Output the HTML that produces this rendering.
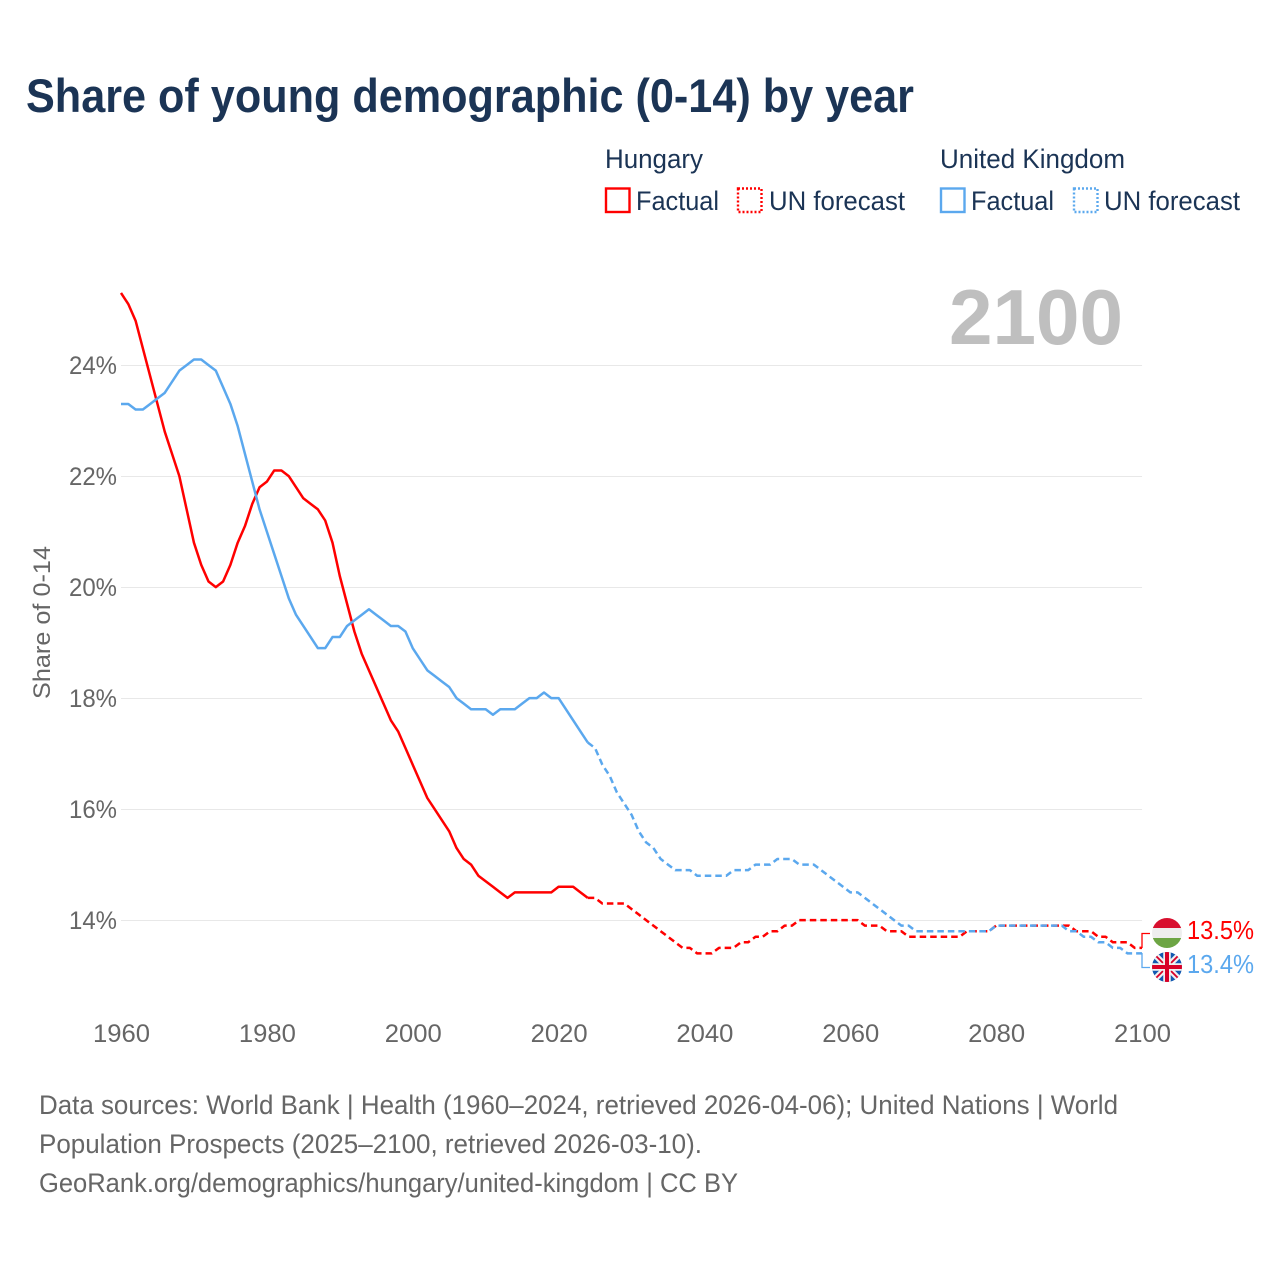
<!DOCTYPE html>
<html lang="en">
<head>
<meta charset="utf-8">
<title>Share of young demographic (0-14) by year</title>
<style>
html,body{margin:0;padding:0;background:#fff;width:1280px;height:1280px;overflow:hidden}
svg{display:block}
text{font-family:"Liberation Sans",sans-serif}
</style>
</head>
<body>
<svg id="chart" xmlns="http://www.w3.org/2000/svg" width="1280" height="1280" viewBox="0 0 1280 1280">
  <defs>
    <clipPath id="hu-clip"><circle cx="1167" cy="933" r="15"/></clipPath>
    <clipPath id="uk-clip"><circle cx="1167" cy="967" r="15"/></clipPath>
  </defs>
  <rect x="0" y="0" width="1280" height="1280" fill="#fff"/>
  <text x="26" y="112" font-size="47" font-weight="700" fill="#1b3455" textLength="888" lengthAdjust="spacingAndGlyphs">Share of young demographic (0-14) by year</text>

  <g font-size="26.5" fill="#1b3455">
    <text x="605" y="168" textLength="98" lengthAdjust="spacingAndGlyphs">Hungary</text>
    <rect x="606" y="188.500" width="23.500" height="23.500" fill="none" stroke="#ff0000" stroke-width="2.400"/>
    <text x="636" y="210" textLength="83" lengthAdjust="spacingAndGlyphs">Factual</text>
    <rect x="738" y="188.500" width="23.500" height="23.500" fill="none" stroke="#ff0000" stroke-width="2.400" stroke-dasharray="2 2"/>
    <text x="769" y="210" textLength="136" lengthAdjust="spacingAndGlyphs">UN forecast</text>
    <text x="940" y="168" textLength="185" lengthAdjust="spacingAndGlyphs">United Kingdom</text>
    <rect x="941" y="188.500" width="23.500" height="23.500" fill="none" stroke="#5ba8ee" stroke-width="2.400"/>
    <text x="971" y="210" textLength="83" lengthAdjust="spacingAndGlyphs">Factual</text>
    <rect x="1074" y="188.500" width="23.500" height="23.500" fill="none" stroke="#5ba8ee" stroke-width="2.400" stroke-dasharray="2 2"/>
    <text x="1104" y="210" textLength="136" lengthAdjust="spacingAndGlyphs">UN forecast</text>
  </g>

  <g id="grid"></g>
  <text x="949" y="344" font-size="78" font-weight="700" fill="#bfbfbf" textLength="174" lengthAdjust="spacingAndGlyphs">2100</text>
  <g id="y-ticks"></g>
  <g id="x-ticks"></g>
  <text transform="translate(50,699) rotate(-90)" x="0" y="0" font-size="24.500" fill="#666666" textLength="153" lengthAdjust="spacingAndGlyphs">Share of 0-14</text>
  <g id="series"></g>

  <path d="M1142 948V933.500H1150" fill="none" stroke="#ff0000" stroke-width="1.300"/>
  <path d="M1142 953V967.500H1150" fill="none" stroke="#5ba8ee" stroke-width="1.300"/>

  <g clip-path="url(#hu-clip)">
    <rect x="1152" y="918" width="30" height="10" fill="#d8102f"/>
    <rect x="1152" y="928" width="30" height="10" fill="#eeeeee"/>
    <rect x="1152" y="938" width="30" height="10" fill="#6da544"/>
  </g>
  <g clip-path="url(#uk-clip)">
    <rect x="1152" y="952" width="30" height="30" fill="#1259b0"/>
    <path d="M1152 952L1182 982M1182 952L1152 982" stroke="#f0f0f0" stroke-width="6"/>
    <path d="M1152 952L1182 982M1182 952L1152 982" stroke="#d80027" stroke-width="1.800"/>
    <path d="M1167 952V982M1152 967H1182" stroke="#f0f0f0" stroke-width="7.500"/>
    <path d="M1167 952V982M1152 967H1182" stroke="#d80027" stroke-width="4"/>
  </g>
  <text id="hu-end" x="1187" y="939" font-size="25.500" fill="#ff0000" textLength="67" lengthAdjust="spacingAndGlyphs"></text>
  <text id="uk-end" x="1187" y="973" font-size="25.500" fill="#5ba8ee" textLength="67" lengthAdjust="spacingAndGlyphs"></text>

  <g font-size="26.500" fill="#666666">
    <text x="39" y="1114" textLength="1079" lengthAdjust="spacingAndGlyphs">Data sources: World Bank | Health (1960–2024, retrieved 2026-04-06); United Nations | World</text>
    <text x="39" y="1153" textLength="663" lengthAdjust="spacingAndGlyphs">Population Prospects (2025–2100, retrieved 2026-03-10).</text>
    <text x="39" y="1192" textLength="699" lengthAdjust="spacingAndGlyphs">GeoRank.org/demographics/hungary/united-kingdom | CC BY</text>
  </g>
</svg>
<script>
const firstYear = 1960;
const lastFactualYear = 2024;
const xTickLabels = [1960, 1980, 2000, 2020, 2040, 2060, 2080, 2100];
const yTickLabels = [14, 16, 18, 20, 22, 24];
const hungaryValues = [
  25.3,25.1,24.8,24.3,23.8,23.3,22.8,22.4,22.0,21.4,
  20.8,20.4,20.1,20.0,20.1,20.4,20.8,21.1,21.5,21.8,
  21.9,22.1,22.1,22.0,21.8,21.6,21.5,21.4,21.2,20.8,
  20.2,19.7,19.2,18.8,18.5,18.2,17.9,17.6,17.4,17.1,
  16.8,16.5,16.2,16.0,15.8,15.6,15.3,15.1,15.0,14.8,
  14.7,14.6,14.5,14.4,14.5,14.5,14.5,14.5,14.5,14.5,
  14.6,14.6,14.6,14.5,14.4,14.4,14.3,14.3,14.3,14.3,
  14.2,14.1,14.0,13.9,13.8,13.7,13.6,13.5,13.5,13.4,
  13.4,13.4,13.5,13.5,13.5,13.6,13.6,13.7,13.7,13.8,
  13.8,13.9,13.9,14.0,14.0,14.0,14.0,14.0,14.0,14.0,
  14.0,14.0,13.9,13.9,13.9,13.8,13.8,13.8,13.7,13.7,
  13.7,13.7,13.7,13.7,13.7,13.7,13.8,13.8,13.8,13.8,
  13.9,13.9,13.9,13.9,13.9,13.9,13.9,13.9,13.9,13.9,
  13.9,13.8,13.8,13.8,13.7,13.7,13.6,13.6,13.6,13.5,13.5
];
const ukValues = [
  23.3,23.3,23.2,23.2,23.3,23.4,23.5,23.7,23.9,24.0,
  24.1,24.1,24.0,23.9,23.6,23.3,22.9,22.4,21.9,21.4,
  21.0,20.6,20.2,19.8,19.5,19.3,19.1,18.9,18.9,19.1,
  19.1,19.3,19.4,19.5,19.6,19.5,19.4,19.3,19.3,19.2,
  18.9,18.7,18.5,18.4,18.3,18.2,18.0,17.9,17.8,17.8,
  17.8,17.7,17.8,17.8,17.8,17.9,18.0,18.0,18.1,18.0,
  18.0,17.8,17.6,17.4,17.2,17.1,16.8,16.6,16.3,16.1,
  15.9,15.6,15.4,15.3,15.1,15.0,14.9,14.9,14.9,14.8,
  14.8,14.8,14.8,14.8,14.9,14.9,14.9,15.0,15.0,15.0,
  15.1,15.1,15.1,15.0,15.0,15.0,14.9,14.8,14.7,14.6,
  14.5,14.5,14.4,14.3,14.2,14.1,14.0,13.9,13.9,13.8,
  13.8,13.8,13.8,13.8,13.8,13.8,13.8,13.8,13.8,13.8,
  13.9,13.9,13.9,13.9,13.9,13.9,13.9,13.9,13.9,13.9,
  13.8,13.8,13.7,13.7,13.6,13.6,13.5,13.5,13.4,13.4,13.4
];

const SVG_NS = 'http://www.w3.org/2000/svg';
function xScale(year) { return 121 + (year - 1960) * 7.293; }
function yScale(value) { return 920.5 - (value - 14) * 55.5; }
function linePath(values, fromYear, toYear) {
  let d = '';
  for (let yr = fromYear; yr <= toYear; yr++) {
    const v = values[yr - firstYear];
    if (v === undefined) continue;
    d += (d ? 'L' : 'M') + xScale(yr).toFixed(2) + ' ' + (yScale(v) - 0.4).toFixed(2);
  }
  return d;
}

const gridGroup = document.getElementById('grid');
const yTickGroup = document.getElementById('y-ticks');
yTickLabels.forEach(function (tick) {
  const grid = document.createElementNS(SVG_NS, 'line');
  
  
  grid.setAttribute('x1', xScale(firstYear));
  grid.setAttribute('x2', xScale(2100));
  grid.setAttribute('y1', yScale(tick));
  grid.setAttribute('y2', yScale(tick));
  grid.setAttribute('stroke', '#e8e8e8');
  grid.setAttribute('stroke-width', '1');
  gridGroup.appendChild(grid);

  const label = document.createElementNS(SVG_NS, 'text');
  
  
  label.setAttribute('x', 117);
  label.setAttribute('y', yScale(tick) + 8.5);
  label.setAttribute('text-anchor', 'end');
  label.setAttribute('font-size', '25');
  label.setAttribute('fill', '#666666');
  label.setAttribute('textLength', '48');
  label.setAttribute('lengthAdjust', 'spacingAndGlyphs');
  label.textContent = tick + '%';
  yTickGroup.appendChild(label);
});

const xTickGroup = document.getElementById('x-ticks');
xTickLabels.forEach(function (tick) {
  const label = document.createElementNS(SVG_NS, 'text');
  
  
  label.setAttribute('x', xScale(tick) + 0.5);
  label.setAttribute('y', 1042);
  label.setAttribute('text-anchor', 'middle');
  label.setAttribute('font-size', '25');
  label.setAttribute('fill', '#666666');
  label.setAttribute('textLength', '57');
  label.setAttribute('lengthAdjust', 'spacingAndGlyphs');
  label.textContent = tick;
  xTickGroup.appendChild(label);
});

const seriesGroup = document.getElementById('series');
function drawSeries(key, values, color) {
  const factual = document.createElementNS(SVG_NS, 'path');
  
  
  factual.setAttribute('d', linePath(values, firstYear, lastFactualYear));
  factual.setAttribute('fill', 'none');
  factual.setAttribute('stroke', color);
  factual.setAttribute('stroke-width', '2.5');
  factual.setAttribute('stroke-linejoin', 'round');
  seriesGroup.appendChild(factual);

  const forecast = document.createElementNS(SVG_NS, 'path');
  
  
  forecast.setAttribute('d', linePath(values, lastFactualYear, 2100));
  forecast.setAttribute('fill', 'none');
  forecast.setAttribute('stroke', color);
  forecast.setAttribute('stroke-width', '2.5');
  forecast.setAttribute('stroke-dasharray', '6.5 4');
  forecast.setAttribute('stroke-linejoin', 'round');
  seriesGroup.appendChild(forecast);
}
drawSeries('hungary', hungaryValues, '#ff0000');
drawSeries('uk', ukValues, '#5ba8ee');

document.getElementById('hu-end').textContent = hungaryValues[hungaryValues.length - 1].toFixed(1) + '%';
document.getElementById('uk-end').textContent = ukValues[ukValues.length - 1].toFixed(1) + '%';
</script>
</body>
</html>
